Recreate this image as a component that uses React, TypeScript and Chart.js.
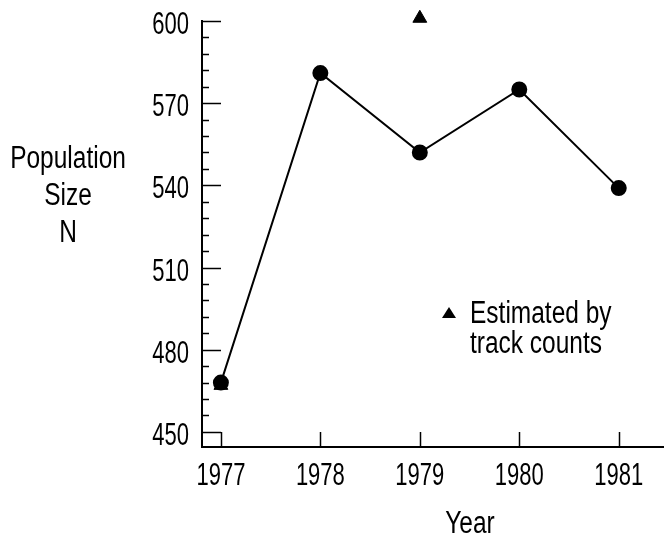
import React, { useEffect, useRef } from "react";
import { Chart, registerables } from "chart.js";

Chart.register(...registerables);

const years = [1977, 1978, 1979, 1980, 1981];
const populationN = [468, 581, 552, 575, 539];
const trackYears = [1977, 1979];
const trackCounts = [467, 601];
const yMajorTicks = [450, 480, 510, 540, 570, 600];
const yMinorStep = 6;
const yAxisTitle = ["Population", "Size", "N"];
const xAxisTitle = "Year";
const legendLines = ["Estimated by", "track counts"];

const FONT = '"Liberation Sans", Arial, sans-serif';
const FONT_SIZE = 31;
const DIGIT_SX = 0.71;
const TEXT_SX = 0.79;

function drawText(
  ctx: CanvasRenderingContext2D,
  t: string,
  x: number,
  y: number,
  sx: number,
  align: CanvasTextAlign
) {
  ctx.save();
  ctx.translate(x, y);
  ctx.scale(sx, 1);
  ctx.textAlign = align;
  ctx.textBaseline = "alphabetic";
  ctx.fillText(t, 0, 0);
  ctx.restore();
}

const decorPlugin = {
  id: "decor",
  afterDraw(chart: any) {
    const ctx = chart.ctx as CanvasRenderingContext2D;
    const xs = chart.scales.x;
    const ys = chart.scales.y;
    const left = chart.chartArea.left;
    const bottom = chart.chartArea.bottom;
    ctx.save();
    ctx.strokeStyle = "#000";
    ctx.fillStyle = "#000";
    ctx.lineWidth = 1.5;
    ctx.font = `${FONT_SIZE}px ${FONT}`;
    // y ticks (inward) and labels
    for (let v = yMajorTicks[0]; v <= yMajorTicks[yMajorTicks.length - 1]; v += yMinorStep) {
      const py = Math.round(ys.getPixelForValue(v)) + 0.5;
      const major = yMajorTicks.includes(v);
      ctx.beginPath();
      ctx.moveTo(left, py);
      ctx.lineTo(left + (major ? 19 : 7), py);
      ctx.stroke();
    }
    yMajorTicks.forEach((v) => {
      const py = ys.getPixelForValue(v);
      drawText(ctx, String(v), left - 13, py + 13, DIGIT_SX, "right");
    });
    // x ticks (inward) and labels
    years.forEach((yr) => {
      const px = Math.round(xs.getPixelForValue(yr)) + 0.5;
      ctx.beginPath();
      ctx.moveTo(px, bottom);
      ctx.lineTo(px, bottom - 15);
      ctx.stroke();
      drawText(ctx, String(yr), xs.getPixelForValue(yr), bottom + 38, DIGIT_SX, "center");
    });
    // y-axis title
    yAxisTitle.forEach((t, i) => drawText(ctx, t, 68, 168 + i * 37, TEXT_SX, "center"));
    // x-axis title
    drawText(ctx, xAxisTitle, 470, 533, TEXT_SX, "center");
    // legend
    const lx = 449;
    ctx.beginPath();
    ctx.moveTo(lx, 307);
    ctx.lineTo(lx + 7, 318);
    ctx.lineTo(lx - 7, 318);
    ctx.closePath();
    ctx.fill();
    legendLines.forEach((t, i) => drawText(ctx, t, 470, 323 + i * 30, TEXT_SX, "left"));
    ctx.restore();
  },
};

export default function App() {
  const ref = useRef<HTMLCanvasElement | null>(null);
  useEffect(() => {
    document.body.style.margin = "0";
    const canvas = ref.current!;
    const chart = new Chart(canvas, {
      type: "line",
      data: {
        datasets: [
          {
            label: "Population size",
            data: years.map((x, i) => ({ x, y: populationN[i] })),
            borderColor: "#000",
            backgroundColor: "#000",
            borderWidth: 2,
            pointRadius: 7,
            pointStyle: "circle",
            clip: false as any,
          },
          {
            label: "Estimated by track counts",
            data: trackYears.map((x, i) => ({ x, y: trackCounts[i] })),
            showLine: false,
            borderColor: "#000",
            backgroundColor: "#000",
            pointRadius: 8,
            pointStyle: "triangle",
            clip: false as any,
          },
        ],
      },
      options: {
        responsive: false,
        animation: false,
        layout: { autoPadding: false, padding: { left: 0, top: 21, right: 0, bottom: 0 } },
        plugins: { legend: { display: false }, tooltip: { enabled: false } },
        scales: {
          x: {
            type: "linear",
            min: 1976.81,
            max: 1981.455,
            afterBuildTicks: (s: any) => {
              s.ticks = years.map((v) => ({ value: v }));
            },
            afterFit: (s: any) => {
              s.height = 91;
            },
            grid: { display: false, drawTicks: false },
            border: { display: true, color: "#000", width: 2 },
            ticks: { display: false },
          },
          y: {
            type: "linear",
            min: 444.5,
            max: 600,
            afterBuildTicks: (s: any) => {
              s.ticks = yMajorTicks.map((v) => ({ value: v }));
            },
            afterFit: (s: any) => {
              s.width = 202;
            },
            grid: { display: false, drawTicks: false },
            border: { display: true, color: "#000", width: 2 },
            ticks: { display: false },
          },
        },
      },
      plugins: [decorPlugin],
    });
    return () => chart.destroy();
  }, []);
  return (
    <div style={{ position: "absolute", left: 0, top: 0, width: 664, height: 538, background: "#fff" }}>
      <canvas ref={ref} width={664} height={538} />
    </div>
  );
}
